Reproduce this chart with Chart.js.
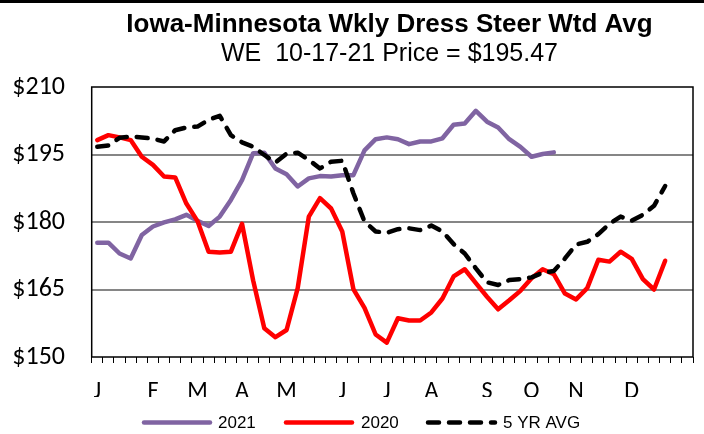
<!DOCTYPE html>
<html>
<head>
<meta charset="utf-8">
<script src="https://cdn.jsdelivr.net/npm/chart.js@4/dist/chart.umd.min.js"></script>
<style>
html,body{margin:0;padding:0;background:#fff;overflow:hidden}
#wrap{width:704px;height:434px;position:relative}
</style>
</head>
<body>
<div id="wrap"><canvas id="c" width="704" height="434"></canvas></div>
<script>
// Week categories (54 slots) with month letters as tick labels
const categoryLabels = ['J','','','','', 'F','','','', 'M','','','', 'A','','','', 'M','','','','', 'J','','','', 'J','','','', 'A','','','','', 'S','','','', 'O','','','', 'N','','','','', 'D','','','','',''];

const seriesNames = ['2021', '2020', '5 YR AVG'];

const values2021 = [175.4,175.4,173.0,171.9,177.1,179.0,179.9,180.6,181.6,180.3,
                    179.1,181.2,184.9,189.3,195.3,195.4,191.9,190.6,187.9,189.7,
                    190.2,190.1,190.4,190.4,195.9,198.4,198.8,198.4,197.3,197.9,
                    197.9,198.6,201.6,201.9,204.7,202.3,201.0,198.4,196.7,194.5,
                    195.1,195.47];

const values2020 = [198.2,199.3,198.8,198.2,194.5,192.7,190.1,189.9,184.1,180.2,
                    173.4,173.2,173.4,179.6,167.0,156.4,154.4,156.0,165.3,181.2,
                    185.3,183.0,177.9,165.1,160.9,155.0,153.2,158.6,158.1,158.1,
                    159.9,163.0,167.9,169.5,166.4,163.4,160.6,162.6,164.7,167.5,
                    169.5,168.4,164.1,162.8,165.3,171.6,171.2,173.4,171.8,167.3,
                    165.0,171.4];

const values5yr = [196.7,197.0,198.7,199.0,198.8,198.5,197.9,200.4,201.0,201.2,
                   202.7,203.6,199.3,197.7,196.7,194.9,193.2,195.2,195.4,193.8,
                   191.9,193.4,193.6,186.4,180.1,177.9,177.6,178.4,178.6,178.2,
                   179.2,177.9,175.1,173.0,169.7,166.6,166.0,167.1,167.3,167.7,
                   168.7,169.1,171.9,175.0,175.6,177.3,179.6,181.2,180.3,181.6,
                   183.6,188.0];

const yTicks = [150, 165, 180, 195, 210];

const titleText = 'Iowa-Minnesota Wkly Dress Steer Wtd Avg';
const subtitleText = 'WE  10-17-21 Price = $195.47';

const colors = ['#8064A2', '#FF0000', '#000000'];
const dashes = [[], [], [11, 10]];

const deco = {
  id: 'deco',
  beforeDraw(chart) {
    const ctx = chart.ctx;
    ctx.save();
    ctx.fillStyle = '#fff';
    ctx.fillRect(0, 0, chart.width, chart.height);
    ctx.fillStyle = '#000';
    ctx.fillRect(0, 0, chart.width, 3);
    ctx.restore();
  },
  beforeDatasetsDraw(chart) {
    const ctx = chart.ctx;
    const a = chart.chartArea;
    ctx.save();
    ctx.strokeStyle = '#000';
    ctx.lineWidth = 1.5;
    ctx.strokeRect(a.left, a.top, a.right - a.left, a.bottom - a.top);
    ctx.restore();
  },
  afterDraw(chart) {
    const ctx = chart.ctx;
    ctx.save();
    ctx.fillStyle = '#000';
    ctx.textAlign = 'center';
    ctx.textBaseline = 'alphabetic';
    ctx.font = 'bold 26px "Liberation Sans", Arial, sans-serif';
    ctx.fillText(titleText, 389.5, 31.5);
    ctx.font = '25px "Liberation Sans", Arial, sans-serif';
    ctx.fillText(subtitleText, 389.5, 60.5);

    // legend
    const items = [
      {x1: 142, x2: 212, tx: 218},
      {x1: 284, x2: 354, tx: 361},
      {x1: 426, x2: 497, tx: 503}
    ];
    const ly = 422.5;
    ctx.font = '17px "Liberation Sans", Arial, sans-serif';
    ctx.textAlign = 'left';
    ctx.textBaseline = 'middle';
    items.forEach((it, i) => {
      ctx.save();
      ctx.strokeStyle = colors[i];
      ctx.lineWidth = 4.5;
      ctx.lineCap = 'round';
      ctx.setLineDash(dashes[i]);
      ctx.beginPath();
      ctx.moveTo(it.x1 + 2, ly);
      ctx.lineTo(it.x2 - 2, ly);
      ctx.stroke();
      ctx.restore();
      ctx.fillStyle = '#000';
      ctx.fillText(seriesNames[i], it.tx, ly + 1);
    });
    ctx.restore();
  }
};

const common = {
  fill: false, tension: 0, pointRadius: 0, pointHoverRadius: 0,
  borderWidth: 4.5, borderCapStyle: 'round', borderJoinStyle: 'round'
};

new Chart(document.getElementById('c'), {
  type: 'line',
  data: {
    labels: categoryLabels,
    datasets: [
      Object.assign({label: seriesNames[0], data: values2021, borderColor: colors[0], order: 3}, common),
      Object.assign({label: seriesNames[1], data: values2020, borderColor: colors[1], order: 2}, common),
      Object.assign({label: seriesNames[2], data: values5yr, borderColor: colors[2], borderDash: dashes[2], order: 1}, common)
    ]
  },
  options: {
    responsive: false,
    animation: false,
    events: [],
    layout: {padding: {top: 87, right: 11, bottom: 37, left: 0}},
    plugins: {legend: {display: false}, title: {display: false}, tooltip: {enabled: false}},
    scales: {
      x: {
        offset: true,
        afterFit(s) { s.height = 40; },
        border: {display: false},
        grid: {offset: true, drawOnChartArea: false, drawTicks: true, tickLength: 6, color: '#000', lineWidth: 1},
        ticks: {autoSkip: false, maxRotation: 0, minRotation: 0, padding: 15, color: '#000',
                font: {family: 'Carlito, Lato, sans-serif', size: 24}}
      },
      y: {
        min: 150, max: 210,
        afterFit(s) { s.width = 91.7; },
        afterBuildTicks(s) { s.ticks = yTicks.map(v => ({value: v})); },
        border: {display: false},
        grid: {drawTicks: false, lineWidth: 2,
               color: c => (c.tick && (c.tick.value === 150 || c.tick.value === 210)) ? 'rgba(0,0,0,0)' : '#868686'},
        ticks: {padding: 26.7, color: '#000', callback: v => '$' + v,
                font: {family: 'Carlito, Lato, sans-serif', size: 26}}
      }
    }
  },
  plugins: [deco]
});
</script>
</body>
</html>
